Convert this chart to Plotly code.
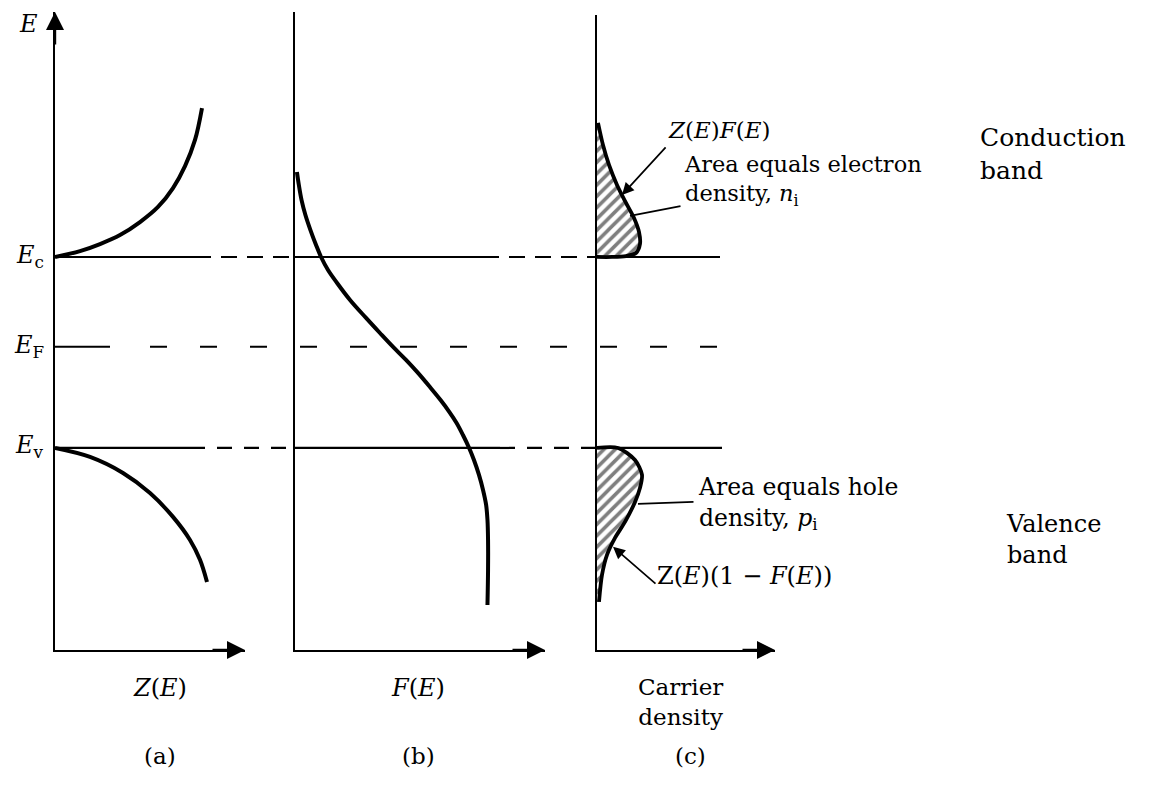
import plotly.graph_objects as go

W, H = 1163, 785

# Energy levels (arbitrary units, valence band edge at zero)
E_V = 0.0
E_C = 1.0
E_F = 0.53
E_MIN, E_MAX = -1.058, 2.283

# (a) density of states Z(E)
z_cb_E = [1.0, 1.031, 1.068, 1.115, 1.183, 1.262, 1.361, 1.476, 1.613, 1.780]
z_cb = [0.0, 0.25, 0.45, 0.65, 0.85, 1.03, 1.18, 1.30, 1.40, 1.47]
z_vb_E = [0.0, -0.047, -0.131, -0.236, -0.361, -0.482, -0.586, -0.702]
z_vb = [0.0, 0.35, 0.68, 0.95, 1.18, 1.35, 1.45, 1.52]

# (b) Fermi-Dirac occupation F(E)
f_E = [1.445, 1.377, 1.298, 1.220, 1.141, 1.063, 1.0, 0.932, 0.864, 0.775,
       0.681, 0.602, 0.529, 0.461, 0.393, 0.319, 0.251, 0.188, 0.131, 0.068,
       0.0, -0.063, -0.141, -0.220, -0.298, -0.377, -0.482, -0.639, -0.822]
f_val = [0.010, 0.020, 0.034, 0.054, 0.080, 0.109, 0.135, 0.171, 0.218, 0.285,
         0.368, 0.440, 0.508, 0.575, 0.637, 0.699, 0.754, 0.800, 0.837, 0.870,
         0.902, 0.927, 0.953, 0.974, 0.990, 0.997, 1.000, 1.000, 0.997]

# (c) carrier densities: electrons Z(E)F(E), holes Z(E)(1-F(E))
n_E = [1.702, 1.586, 1.482, 1.377, 1.283, 1.204, 1.131, 1.068, 1.021, 1.005, 1.0, 1.0]
n_val = [0.01, 0.06, 0.12, 0.20, 0.29, 0.37, 0.42, 0.43, 0.39, 0.29, 0.15, 0.0]
p_E = [0.0, 0.0, -0.063, -0.141, -0.209, -0.283, -0.387, -0.471, -0.560, -0.665, -0.806]
p_val = [0.0, 0.21, 0.38, 0.45, 0.43, 0.38, 0.28, 0.18, 0.10, 0.05, 0.02]

# Horizontal extents of the three panels (axis ranges)
Z_MAX, F_MAX, N_MAX = 1.90, 1.295, 1.78

FONT = "DejaVu Serif"
TXT = 22.5


def px(p):
    return p / W


def py(p):
    return 1 - p / H


fig = go.Figure()

curve = dict(color="black", width=4, shape="spline", smoothing=1.0)
fig.add_trace(go.Scatter(x=z_cb, y=z_cb_E, mode="lines", line=curve, xaxis="x", yaxis="y"))
fig.add_trace(go.Scatter(x=z_vb, y=z_vb_E, mode="lines", line=curve, xaxis="x", yaxis="y"))
fig.add_trace(go.Scatter(x=f_val, y=f_E, mode="lines", line=curve, xaxis="x2", yaxis="y2"))

hatch = dict(shape="/", fgcolor="black", bgcolor="white", size=8, solidity=0.45)
fig.add_trace(go.Scatter(x=n_val + [0.0], y=n_E + [n_E[0]], mode="lines", fill="toself",
                         fillpattern=hatch, fillcolor="white",
                         line=dict(width=0, shape="spline", smoothing=0.8), xaxis="x3", yaxis="y3"))
fig.add_trace(go.Scatter(x=p_val + [0.0], y=p_E + [p_E[-1]], mode="lines", fill="toself",
                         fillpattern=hatch, fillcolor="white",
                         line=dict(width=0, shape="spline", smoothing=0.8), xaxis="x3", yaxis="y3"))
edge = dict(color="black", width=3.8, shape="spline", smoothing=0.8)
fig.add_trace(go.Scatter(x=n_val, y=n_E, mode="lines", line=edge, xaxis="x3", yaxis="y3"))
fig.add_trace(go.Scatter(x=p_val, y=p_E, mode="lines", line=edge, xaxis="x3", yaxis="y3"))

# Band edges and Fermi level across the three panels
segments = [
    (55, 195, E_C, "solid"), (195, 295, E_C, "16px,10px"), (295, 483, E_C, "solid"),
    (483, 597, E_C, "16px,10px"), (597, 720, E_C, "solid"),
    (55, 110, E_F, "solid"), (150, 720, E_F, "17px,33px"),
    (55, 190, E_V, "solid"), (190, 295, E_V, "15px,12px"), (295, 500, E_V, "solid"),
    (500, 597, E_V, "15px,12px"), (597, 722, E_V, "solid"),
]
shapes = []
for x0, x1, e, dash in segments:
    shapes.append(dict(type="line", xref="paper", yref="y", x0=px(x0), x1=px(x1), y0=e, y1=e,
                       line=dict(color="black", width=2.2, dash=dash)))

axis_common = dict(showline=True, linecolor="black", linewidth=2.2, showgrid=False,
                   zeroline=False, showticklabels=False, ticks="", fixedrange=True)
ydom = [py(650), py(12)]
layout = dict(
    width=W, height=H, autosize=False,
    margin=dict(l=0, r=0, t=0, b=0),
    paper_bgcolor="white", plot_bgcolor="white",
    showlegend=False,
    xaxis=dict(domain=[px(55), px(245)], range=[0, Z_MAX], anchor="y", **axis_common),
    xaxis2=dict(domain=[px(295), px(545)], range=[0, F_MAX], anchor="y2", **axis_common),
    xaxis3=dict(domain=[px(597), px(775)], range=[0, N_MAX], anchor="y3", **axis_common),
    yaxis=dict(domain=ydom, range=[E_MIN, E_MAX], anchor="x", **axis_common),
    yaxis2=dict(domain=ydom, range=[E_MIN, E_MAX], anchor="x2", **axis_common),
    yaxis3=dict(domain=[py(650), py(15)], range=[E_MIN, E_MAX - 0.016], anchor="x3", **axis_common),
    shapes=shapes,
)
fig.update_layout(**layout)

ann = []
arrow = dict(showarrow=True, arrowhead=2, arrowsize=1.5, arrowwidth=2.4, arrowcolor="black", text="")
# axis arrowheads
ann.append(dict(x=Z_MAX, y=E_MIN, xref="x", yref="y", ax=-34, ay=0, **arrow))
ann.append(dict(x=F_MAX, y=E_MIN, xref="x2", yref="y2", ax=-34, ay=0, **arrow))
ann.append(dict(x=N_MAX, y=E_MIN, xref="x3", yref="y3", ax=-34, ay=0, **arrow))
ann.append(dict(x=0, y=E_MAX, xref="x", yref="y", ax=0, ay=34, **arrow))

# pointers in panel (c)
ptr = dict(showarrow=True, arrowcolor="black", text="", xref="x3", yref="y3")
ann.append(dict(x=0.25, y=1.325, ax=45, ay=-49, arrowhead=2, arrowsize=1.4, arrowwidth=1.7, **ptr))
ann.append(dict(x=0.33, y=1.215, ax=52, ay=-10, arrowhead=0, arrowwidth=1.7, **ptr))
ann.append(dict(x=0.41, y=-0.293, ax=57, ay=-2, arrowhead=0, arrowwidth=1.7, **ptr))
ann.append(dict(x=0.16, y=-0.518, ax=44, ay=38, arrowhead=2, arrowsize=1.4, arrowwidth=1.7, **ptr))


def label(text, x, y, xanchor="left", size=TXT, align="left"):
    ann.append(dict(text=text, x=px(x), y=py(y), xref="paper", yref="paper", showarrow=False,
                    xanchor=xanchor, yanchor="middle", align=align,
                    font=dict(family=FONT, size=size, color="black")))


label("<i>E</i>", 28, 24, xanchor="center", size=24)
label("<i>E</i><sub>c</sub>", 46, 257, xanchor="right", size=24)
label("<i>E</i><sub>F</sub>", 46, 346, xanchor="right", size=24)
label("<i>E</i><sub>v</sub>", 46, 446, xanchor="right", size=24)

label("<i>Z</i>(<i>E</i>)<i>F</i>(<i>E</i>)", 666, 130, size=23)
label("Area equals electron<br>density, <i>n</i><sub>i</sub>", 682, 181)
label("Area equals hole<br>density, <i>p</i><sub>i</sub>", 696, 503, size=23.5)
label("Z(<i>E</i>)(1 − <i>F</i>(<i>E</i>))", 655, 576, size=24)
label("Conduction<br>band", 978, 154, size=25)
label("Valence<br>band", 1004, 539, size=24)

label("<i>Z</i>(<i>E</i>)", 160, 688, xanchor="center", size=24)
label("<i>F</i>(<i>E</i>)", 418, 688, xanchor="center", size=24)
label("Carrier<br>density", 680, 702, xanchor="center", align="center", size=23)
label("(a)", 160, 756, xanchor="center", size=23)
label("(b)", 418, 756, xanchor="center", size=23)
label("(c)", 690, 756, xanchor="center", size=23)

fig.update_layout(annotations=ann)
fig.write_html("out.html")
